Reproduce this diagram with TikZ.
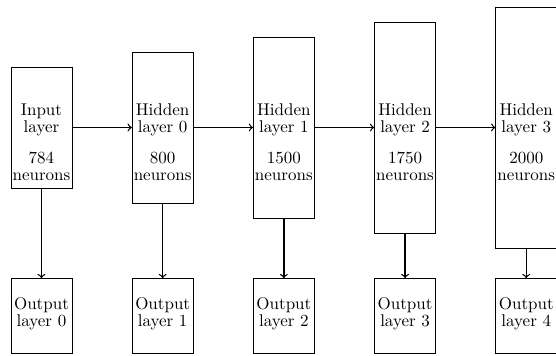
\documentclass[tikz,border=0pt]{standalone}
\usetikzlibrary{positioning}
\tikzset{
  layerbox/.style={draw, line width=0.45pt, minimum width=35.9pt, inner sep=0pt},
  outbox/.style={draw, line width=0.45pt, minimum width=35.9pt, minimum height=44.1pt, inner sep=0pt},
  layertext/.style={align=center, inner sep=0pt, font=\fontsize{10}{10}\selectfont},
  link/.style={->, line width=0.75pt},
}
\begin{document}
\begin{tikzpicture}
\useasboundingbox (0,0) rectangle (327.1pt,-209.4pt);
\clip (0,0) rectangle (327.1pt,-209.4pt);

% layer boxes, each one taller than the one before
\node[layerbox, minimum height=71.2pt]  (in) at (24.4pt,-75pt) {};
\node[layerbox, minimum height=88.8pt]  (h0) at (95.7pt,-75pt) {};
\node[layerbox, minimum height=106.5pt] (h1) at (167.0pt,-75pt) {};
\node[layerbox, minimum height=124.1pt] (h2) at (238.3pt,-75pt) {};
\node[layerbox, minimum height=141.8pt] (h3) at (309.6pt,-75pt) {};

% labels inside the layer boxes
\node[layertext] (tin) at ([yshift=-8.8pt]in.center) {Input\\layer\\[8pt]784\\neurons};
\node[layertext] (th0) at ([yshift=-8.8pt]h0.center) {Hidden\\layer 0\\[8pt]800\\neurons};
\node[layertext] (th1) at ([yshift=-8.8pt]h1.center) {Hidden\\layer 1\\[8pt]1500\\neurons};
\node[layertext] (th2) at ([yshift=-8.8pt]h2.center) {Hidden\\layer 2\\[8pt]1750\\neurons};
\node[layertext] (th3) at ([yshift=-8.8pt]h3.center) {Hidden\\layer 3\\[8pt]2000\\neurons};

% output heads
\node[outbox] (o0) at (24.4pt,-185.9pt) {};
\node[outbox] (o1) at (95.7pt,-185.9pt) {};
\node[outbox] (o2) at (167.0pt,-185.9pt) {};
\node[outbox] (o3) at (238.3pt,-185.9pt) {};
\node[outbox] (o4) at (309.6pt,-185.9pt) {};
\node[layertext] (to0) at ([yshift=1.5pt]o0.center) {Output\\layer 0};
\node[layertext] (to1) at ([yshift=1.5pt]o1.center) {Output\\layer 1};
\node[layertext] (to2) at ([yshift=1.5pt]o2.center) {Output\\layer 2};
\node[layertext] (to3) at ([yshift=1.5pt]o3.center) {Output\\layer 3};
\node[layertext] (to4) at ([yshift=1.5pt]o4.center) {Output\\layer 4};

% forward connections
\draw[link] (in) -- (h0);
\draw[link] (h0) -- (h1);
\draw[link] (h1) -- (h2);
\draw[link] (h2) -- (h3);

% branches to the outputs
\draw[link] (in.south) -- (o0.north);
\draw[link] (h0.south) -- (o1.north);
\draw[link] (h1.south) -- (o2.north);
\draw[link] (h2.south) -- (o3.north);
\draw[link] (h3.south) -- (o4.north);
\end{tikzpicture}
\end{document}
